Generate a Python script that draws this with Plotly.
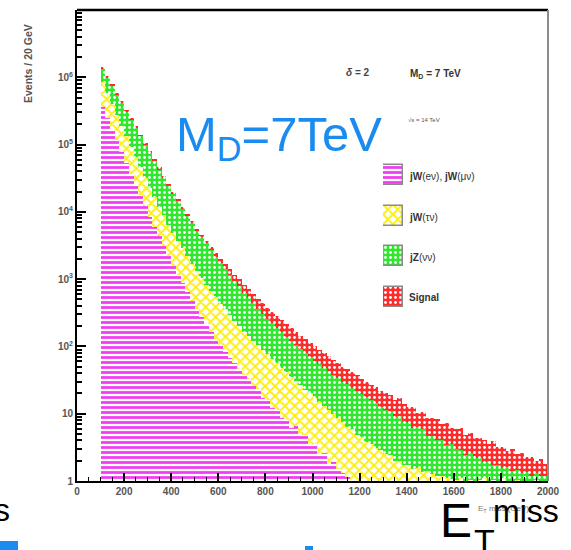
import plotly.graph_objects as go

# ---------------- data ----------------
bin_width = 20
bin_left = list(range(100, 2000, 20))            # 95 bins, 100..1980 GeV

# cumulative stack tops (what ROOT's THStack draws), events / 20 GeV
signal_top = [1410000, 1050000, 794000, 589000, 447000, 331000, 251000, 186000, 141000, 105000,
              79400, 60300, 45700, 34700, 26300, 20000, 15500, 12000, 9330, 7240,
              5620, 4570, 3720, 3020, 2450, 2000, 1660, 1410, 1170, 1000,
              832, 708, 603, 513, 437, 372, 324, 282, 245, 214,
              186, 166, 145, 129, 112, 100, 89, 79, 71, 63,
              56, 50, 46, 41, 37, 33, 30, 27, 25, 22,
              20, 19, 16, 17, 13.8, 12.6, 12.5, 10.2, 10.6, 8.6,
              8.5, 8.3, 7.0, 7.4, 6.2, 6.0, 6.1, 4.9, 5.2, 4.4,
              4.3, 4.1, 3.6, 3.9, 3.2, 3.2, 2.8, 3.0, 2.5, 2.6,
              2.3, 2.3, 2.0, 2.1, 1.8]
jz_top = [1320000, 980000, 741000, 550000, 417000, 309000, 234000, 174000, 132000, 98000,
          74100, 56300, 42600, 32400, 24500, 18700, 14500, 11200, 8700, 6750,
          5230, 4200, 3390, 2720, 2170, 1740, 1410, 1170, 948, 780,
          631, 524, 440, 364, 306, 257, 220, 189, 162, 139,
          120, 106, 92, 81, 69, 61.7, 54.7, 48.2, 43.1, 38.1,
          33.8, 30, 27.5, 24.4, 21.9, 19.4, 17.6, 15.8, 14.5, 12.7,
          11.5, 10.8, 9.0, 9.2, 7.5, 7.3, 6.2, 6.4, 5.9, 4.6,
          4.7, 4.0, 4.1, 3.4, 3.5, 3.0, 2.9, 2.4, 2.6, 2.2,
          2.2, 1.9, 2.0, 1.7, 1.75, 1.55, 1.6, 1.4, 1.45, 1.3,
          1.35, 1.2, 1.3, 1.18, 1.2]
jw_tau_top = [851000, 589000, 407000, 275000, 191000, 132000, 93300, 64600, 45700, 31600,
              22400, 16600, 12000, 8910, 6460, 4790, 3720, 2880, 2190, 1700,
              1320, 1050, 832, 676, 537, 427, 355, 295, 240, 200,
              166, 141, 120, 105, 89, 76, 65, 56, 48, 42,
              35.5, 30.9, 26.9, 22.9, 20, 17.4, 15.1, 13.2, 11.2, 9.8,
              8.5, 7.6, 6.3, 6.0, 4.8, 4.5, 3.8, 3.6, 3.1, 2.9,
              2.5, 2.4, 2.0, 2.0, 1.7, 1.7, 1.5, 1.55, 1.35, 1.4,
              1.26, 1.2, 1.17, 1.12, 1.07, 1.05, 1.1, 1.0, 1.05, 0.9,
              1.05, 1.1, 1.0, 1.05, 0.9, 1.1, 1.0, 0.8, 1.05, 0.9,
              1.0, 0.8, 1.05, 0.7, 0.9]
jw_emu_top = [363000, 245000, 166000, 115000, 77600, 52500, 36300, 25100, 17800, 12300,
              8510, 6030, 4370, 3090, 2240, 1580, 1170, 871, 646, 479,
              355, 275, 214, 166, 129, 100, 83, 68, 56, 46,
              38, 33, 26, 23, 17, 16, 12, 11.5, 8.5, 8.2,
              6.2, 6.5, 4.6, 4.8, 3.4, 3.6, 2.5, 2.6, 1.8, 1.9,
              1.5, 1.3, 1.15, 0, 0, 0, 0, 0, 0, 0,
              0, 0, 0, 0, 0, 0, 0, 0, 0, 0,
              0, 0, 0, 0, 0, 0, 0, 0, 0, 0,
              0, 0, 0, 0, 0, 0, 0, 0, 0, 0,
              0, 0, 0, 0, 0]

series_names = ["jW(eν), jW(μν)", "jW(τν)", "jZ(νν)", "Signal"]
x_tick_vals = [0, 200, 400, 600, 800, 1000, 1200, 1400, 1600, 1800, 2000]
y_tick_vals = [1, 10, 100, 1000, 10000, 100000, 1000000]
y_tick_text = ["1", "10", "10<sup>2</sup>", "10<sup>3</sup>", "10<sup>4</sup>", "10<sup>5</sup>", "10<sup>6</sup>"]

# ---------------- styles ----------------
styles = {
    "Signal": dict(shape=".", bgcolor="#ff2a2a", fgcolor="white", size=5, solidity=0.25),
    "jZ(νν)": dict(shape=".", bgcolor="#2ee82e", fgcolor="white", size=5, solidity=0.25),
    "jW(τν)": dict(shape="x", bgcolor="white", fgcolor="#ffee00", size=7, solidity=0.45),
    "jW(eν), jW(μν)": dict(shape="-", bgcolor="white", fgcolor="#f23cf2", size=5, solidity=0.55),
}

# plot-area pixel box
L, R, T, B = 77, 548, 10, 481
W, H = R - L, B - T
def px(x): return (x - L) / W
def py(y): return (B - y) / H

xc = [b + bin_width / 2 for b in bin_left]

fig = go.Figure()
# draw cumulative histograms from top of stack to bottom (overlay)
for name, vals in [("Signal", signal_top), ("jZ(νν)", jz_top),
                   ("jW(τν)", jw_tau_top), ("jW(eν), jW(μν)", jw_emu_top)]:
    fig.add_trace(go.Bar(x=xc, y=vals, width=bin_width, name=name, showlegend=False,
                         marker=dict(pattern=dict(fillmode="replace", **styles[name]),
                                     line=dict(width=0))))

# custom legend swatches on an auxiliary axis pair
for k, name in enumerate(series_names):
    fig.add_trace(go.Bar(x=[1], y=[k], orientation="h", width=0.5, xaxis="x2", yaxis="y2",
                         showlegend=False, hoverinfo="skip",
                         marker=dict(pattern=dict(fillmode="replace", **styles[name]),
                                     line=dict(width=1.5, color="#8a8a8a"))))

legend_labels = ["<b>jW</b>(eν), <b>jW</b>(μν)", "<b>jW</b>(τν)", "<b>jZ</b>(νν)", "<b>Signal</b>"]
legend_y = [176, 217, 257, 297]

annotations = []
for lab, yy in zip(legend_labels, legend_y):
    annotations.append(dict(text=lab, x=px(407), y=py(yy), xref="paper", yref="paper",
                            xanchor="left", yanchor="middle", showarrow=False,
                            font=dict(family="Liberation Sans, Arial", size=10, color="#333")))

annotations += [
    dict(text="<b><i>δ</i> = 2</b>", x=px(358), y=py(73), xanchor="center", yanchor="middle",
         font=dict(family="Liberation Sans, Arial", size=10, color="#444")),
    dict(text="<b>M<sub>D</sub> = 7 TeV</b>", x=px(408), y=py(74), xanchor="left", yanchor="middle",
         font=dict(family="Liberation Sans, Arial", size=10, color="#333")),
    dict(text="√s = 14 TeV", x=px(406), y=py(120), xanchor="left", yanchor="middle",
         font=dict(family="Liberation Sans, Arial", size=6, color="#555")),
    dict(text="M<sub>D</sub>=7TeV", x=px(174), y=py(137), xanchor="left", yanchor="middle",
         font=dict(family="Liberation Sans, Arial", size=49, color="#1a8cf0")),
    dict(text="<b>Events / 20 GeV</b>", x=px(28), y=py(64), xanchor="center", yanchor="middle",
         textangle=-90, font=dict(family="Liberation Sans, Arial", size=10.5, color="#555")),
    dict(text="E<sub>T</sub> miss (GeV)", x=px(476), y=py(509), xanchor="left", yanchor="middle",
         font=dict(family="Liberation Sans, Arial", size=8, color="#777")),
    dict(text="E", x=px(438), y=py(520), xanchor="left", yanchor="middle",
         font=dict(family="Liberation Sans, Arial", size=48, color="black")),
    dict(text="T", x=px(472), y=py(541), xanchor="left", yanchor="middle",
         font=dict(family="Liberation Sans, Arial", size=34, color="black")),
    dict(text="miss", x=px(491), y=py(511), xanchor="left", yanchor="middle",
         font=dict(family="Liberation Sans, Arial", size=32, color="black")),
    dict(text="s", x=px(12), y=py(510), xanchor="right", yanchor="middle",
         font=dict(family="Liberation Sans, Arial", size=32, color="black")),
]
for a in annotations:
    a.setdefault("xref", "paper"); a.setdefault("yref", "paper"); a.setdefault("showarrow", False)

shapes = [
    dict(type="line", xref="paper", yref="paper", x0=0, x1=1, y0=1, y1=1,
         line=dict(color="black", width=2.5)),
    dict(type="line", xref="paper", yref="paper", x0=1, x1=1, y0=0, y1=1,
         line=dict(color="#8c8c8c", width=2)),
    dict(type="rect", xref="paper", yref="paper", x0=px(0), x1=px(18), y0=py(550), y1=py(541),
         fillcolor="#1a8cf0", line=dict(width=0)),
    dict(type="rect", xref="paper", yref="paper", x0=px(305), x1=px(313), y0=py(550), y1=py(546),
         fillcolor="#1a8cf0", line=dict(width=0)),
]

tickfont = dict(family="Liberation Sans, Arial", size=10, color="#555", weight="bold")
fig.update_layout(
    width=571, height=550,
    margin=dict(l=L, r=571 - R, t=T, b=550 - B, pad=0),
    paper_bgcolor="white", plot_bgcolor="white",
    barmode="overlay", bargap=0,
    showlegend=False,
    annotations=annotations, shapes=shapes,
    xaxis=dict(range=[0, 2000], tickvals=x_tick_vals, ticks="inside", ticklen=8, tickwidth=1.5,
               tickcolor="black", showline=True, linecolor="black", linewidth=2,
               showgrid=False, zeroline=False, tickfont=tickfont,
               minor=dict(ticks="inside", ticklen=4, tickwidth=1, tickcolor="black", dtick=50)),
    yaxis=dict(type="log", range=[0, 7], tickvals=y_tick_vals, ticktext=y_tick_text,
               ticks="inside", ticklen=9, tickwidth=2, tickcolor="black",
               showline=True, linecolor="black", linewidth=2, showgrid=False, zeroline=False,
               tickfont=tickfont,
               minor=dict(ticks="inside", ticklen=5, tickwidth=1.5, tickcolor="black", dtick="D1")),
    xaxis2=dict(domain=[px(383), px(403)], range=[0, 1], visible=False, anchor="y2"),
    yaxis2=dict(domain=[py(317), py(155)], range=[3.5, -0.5], visible=False, anchor="x2"),
)

fig.write_html("out.html")
